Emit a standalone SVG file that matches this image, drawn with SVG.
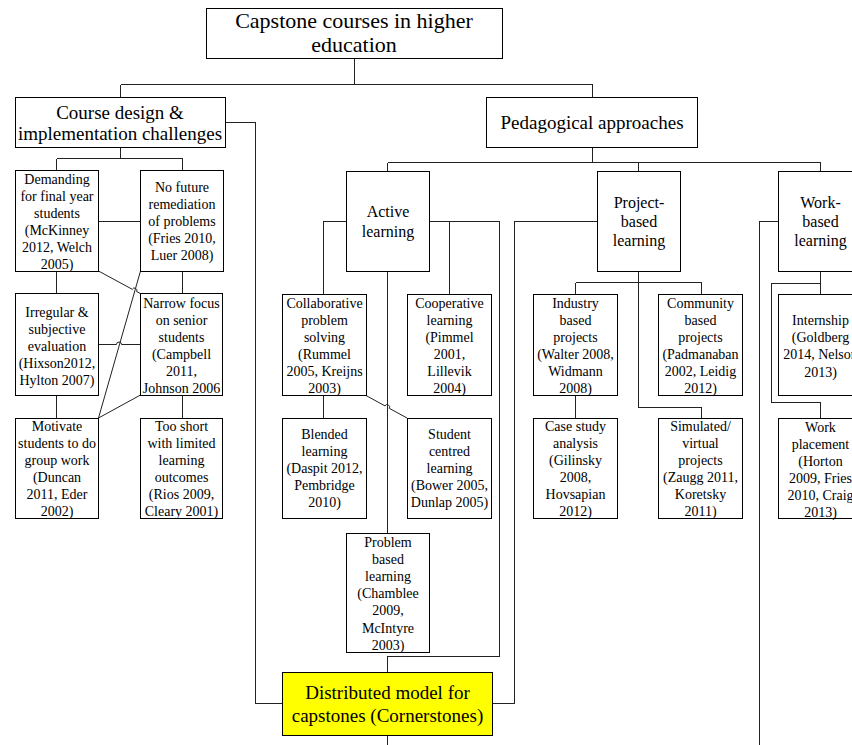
<svg xmlns="http://www.w3.org/2000/svg" width="852" height="745" viewBox="0 0 852 745" font-family="'Liberation Serif', 'Times New Roman', serif">
<style>
  .box { fill: #ffffff; stroke: #000000; stroke-width: 1; shape-rendering: crispEdges; }
  .hl { fill: #ffff00; stroke: #000000; stroke-width: 1; shape-rendering: crispEdges; }
  .c { fill: none; stroke: #222222; stroke-width: 1; }
  .o { shape-rendering: crispEdges; }
  text { font-family: 'Liberation Serif', 'Times New Roman', serif; fill: #000000; text-anchor: middle; }
  .t22 { font-size: 22px; }
  .t19 { font-size: 19px; }
  .t16 { font-size: 16px; }
  .t14 { font-size: 14px; }
</style>
<rect width="852" height="745" fill="#ffffff"/>

<g id="connectors">
  <path class="c o" d="M354.5 58 V84.5 M120.5 84.5 H592.5 M120.5 84.5 V97 M592.5 84.5 V97"/>
  <path class="c o" d="M120.5 147 V158.5 M56.5 158.5 H182.5 M56.5 158.5 V170 M182.5 158.5 V170"/>
  <path class="c o" d="M98 221.5 H140"/>
  <path class="c o" d="M56.5 271 V293 M182.5 271 V293 M56.5 395 V418 M182.5 395 V418"/>
  <path class="c" d="M98 344.5 H116.5 A2.5 2.5 0 0 1 121.5 344.5 H140"/>
  <path class="c" d="M98.5 271 L132.3 289.3 A2.4 2.4 0 0 1 136.6 291.6 L140.5 293.5"/>
  <path class="c" d="M140.5 271 L98.5 418"/>
  <path class="c" d="M140.5 395 L98.5 418"/>
  <path class="c o" d="M225 122.5 H255.5 V703.5 H282"/>

  <path class="c o" d="M592.5 147 V162.5 M387.5 162.5 H820.5 M387.5 162.5 V171 M638.5 162.5 V171 M820.5 162.5 V171"/>

  <path class="c o" d="M346 221.5 H323.5 V294"/>
  <path class="c o" d="M429 221.5 H499.5 V656.5 H387.5 V672"/>
  <path class="c o" d="M449.5 221.5 V294"/>
  <path class="c o" d="M387.5 271 V533"/>
  <path class="c o" d="M323.5 395 V418"/>
  <path class="c" d="M366 395.5 L385 405.9 A2.3 2.3 0 0 1 389.3 408.3 L407 418"/>
  <path class="c o" d="M387.5 735 V745"/>

  <path class="c o" d="M597 221.5 H514.5 V703.5 H492"/>
  <path class="c o" d="M638.5 271 V407.5 H701.5 V418"/>
  <path class="c o" d="M575.5 282.5 H701.5 M575.5 282.5 V294 M701.5 282.5 V294"/>
  <path class="c o" d="M575.5 395 V418"/>

  <path class="c o" d="M778 221.5 H759.5 V745"/>
  <path class="c o" d="M820.5 271 V283.5 H771.5 V402.5 H820.5 V418 M820.5 283.5 V294"/>
</g>

<g id="root">
  <rect class="box" x="206.5" y="8.5" width="296" height="50"/>
  <text class="t22" x="354" y="28">Capstone courses in higher</text>
  <text class="t22" x="354" y="52">education</text>
</g>

<g id="course-design">
  <rect class="box" x="15.5" y="97.5" width="210" height="50"/>
  <text class="t19" x="120" y="118.5">Course design &amp;</text>
  <text class="t19" x="120" y="139.5">implementation challenges</text>
</g>

<g id="pedagogical">
  <rect class="box" x="486.5" y="97.5" width="211" height="50"/>
  <text class="t19" x="592" y="128.5">Pedagogical approaches</text>
</g>

<g id="demanding">
  <rect class="box" x="15.5" y="170.5" width="83" height="101"/>
  <text class="t14" x="57" y="184"><tspan x="57">Demanding</tspan><tspan x="57" dy="16.9">for final year</tspan><tspan x="57" dy="16.9">students</tspan><tspan x="57" dy="16.9">(McKinney</tspan><tspan x="57" dy="16.9">2012, Welch</tspan><tspan x="57" dy="16.9">2005)</tspan></text>
</g>

<g id="no-future">
  <rect class="box" x="140.5" y="170.5" width="83" height="101"/>
  <text class="t14" x="182" y="192"><tspan x="182">No future</tspan><tspan x="182" dy="17">remediation</tspan><tspan x="182" dy="17">of problems</tspan><tspan x="182" dy="17">(Fries 2010,</tspan><tspan x="182" dy="17">Luer 2008)</tspan></text>
</g>

<g id="irregular">
  <rect class="box" x="15.5" y="293.5" width="83" height="102"/>
  <text class="t14" x="57" y="317"><tspan x="57">Irregular &amp;</tspan><tspan x="57" dy="17">subjective</tspan><tspan x="57" dy="17">evaluation</tspan><tspan x="57" dy="17">(Hixson2012,</tspan><tspan x="57" dy="17">Hylton 2007)</tspan></text>
</g>

<g id="narrow">
  <rect class="box" x="140.5" y="293.5" width="82" height="102"/>
  <text class="t14" x="181.5" y="308"><tspan x="181.5">Narrow focus</tspan><tspan x="181.5" dy="16.9">on senior</tspan><tspan x="181.5" dy="16.9">students</tspan><tspan x="181.5" dy="16.9">(Campbell</tspan><tspan x="181.5" dy="16.9">2011,</tspan><tspan x="181.5" dy="16.9">Johnson 2006</tspan></text>
</g>

<g id="motivate">
  <rect class="box" x="15.5" y="418.5" width="83" height="100"/>
  <text class="t14" x="57" y="431"><tspan x="57">Motivate</tspan><tspan x="57" dy="16.9">students to do</tspan><tspan x="57" dy="16.9">group work</tspan><tspan x="57" dy="16.9">(Duncan</tspan><tspan x="57" dy="16.9">2011, Eder</tspan><tspan x="57" dy="16.9">2002)</tspan></text>
</g>

<g id="too-short">
  <rect class="box" x="140.5" y="418.5" width="82" height="100"/>
  <text class="t14" x="181.5" y="431"><tspan x="181.5">Too short</tspan><tspan x="181.5" dy="16.9">with limited</tspan><tspan x="181.5" dy="16.9">learning</tspan><tspan x="181.5" dy="16.9">outcomes</tspan><tspan x="181.5" dy="16.9">(Rios 2009,</tspan><tspan x="181.5" dy="16.9">Cleary 2001)</tspan></text>
</g>

<g id="active">
  <rect class="box" x="346.5" y="171.5" width="83" height="100"/>
  <text class="t16" x="388" y="217"><tspan x="388">Active</tspan><tspan x="388" dy="19.5">learning</tspan></text>
</g>

<g id="collaborative">
  <rect class="box" x="282.5" y="294.5" width="84" height="101"/>
  <text class="t14" x="324.5" y="308"><tspan x="324.5">Collaborative</tspan><tspan x="324.5" dy="16.9">problem</tspan><tspan x="324.5" dy="16.9">solving</tspan><tspan x="324.5" dy="16.9">(Rummel</tspan><tspan x="324.5" dy="16.9">2005, Kreijns</tspan><tspan x="324.5" dy="16.9">2003)</tspan></text>
</g>

<g id="cooperative">
  <rect class="box" x="407.5" y="294.5" width="84" height="101"/>
  <text class="t14" x="449.5" y="308"><tspan x="449.5">Cooperative</tspan><tspan x="449.5" dy="16.9">learning</tspan><tspan x="449.5" dy="16.9">(Pimmel</tspan><tspan x="449.5" dy="16.9">2001,</tspan><tspan x="449.5" dy="16.9">Lillevik</tspan><tspan x="449.5" dy="16.9">2004)</tspan></text>
</g>

<g id="blended">
  <rect class="box" x="282.5" y="418.5" width="84" height="100"/>
  <text class="t14" x="324.5" y="439"><tspan x="324.5">Blended</tspan><tspan x="324.5" dy="17">learning</tspan><tspan x="324.5" dy="17">(Daspit 2012,</tspan><tspan x="324.5" dy="17">Pembridge</tspan><tspan x="324.5" dy="17">2010)</tspan></text>
</g>

<g id="student-centred">
  <rect class="box" x="407.5" y="418.5" width="84" height="100"/>
  <text class="t14" x="449.5" y="439"><tspan x="449.5">Student</tspan><tspan x="449.5" dy="17">centred</tspan><tspan x="449.5" dy="17">learning</tspan><tspan x="449.5" dy="17">(Bower 2005,</tspan><tspan x="449.5" dy="17">Dunlap 2005)</tspan></text>
</g>

<g id="problem-based">
  <rect class="box" x="346.5" y="533.5" width="83" height="119"/>
  <text class="t14" x="388" y="547"><tspan x="388">Problem</tspan><tspan x="388" dy="17.1">based</tspan><tspan x="388" dy="17.1">learning</tspan><tspan x="388" dy="17.1">(Chamblee</tspan><tspan x="388" dy="17.1">2009,</tspan><tspan x="388" dy="17.1">McIntyre</tspan><tspan x="388" dy="17.1">2003)</tspan></text>
</g>

<g id="distributed">
  <rect class="hl" x="282.5" y="672.5" width="210" height="63"/>
  <text class="t19" x="387.5" y="698.5">Distributed model for</text>
  <text class="t19" x="387.5" y="721.5">capstones (Cornerstones)</text>
</g>

<g id="project-based">
  <rect class="box" x="597.5" y="171.5" width="83" height="100"/>
  <text class="t16" x="639" y="207.5"><tspan x="639">Project-</tspan><tspan x="639" dy="19.3">based</tspan><tspan x="639" dy="19.3">learning</tspan></text>
</g>

<g id="industry">
  <rect class="box" x="533.5" y="294.5" width="84" height="101"/>
  <text class="t14" x="575.5" y="308"><tspan x="575.5">Industry</tspan><tspan x="575.5" dy="16.9">based</tspan><tspan x="575.5" dy="16.9">projects</tspan><tspan x="575.5" dy="16.9">(Walter 2008,</tspan><tspan x="575.5" dy="16.9">Widmann</tspan><tspan x="575.5" dy="16.9">2008)</tspan></text>
</g>

<g id="community">
  <rect class="box" x="658.5" y="294.5" width="84" height="101"/>
  <text class="t14" x="700.5" y="308"><tspan x="700.5">Community</tspan><tspan x="700.5" dy="16.9">based</tspan><tspan x="700.5" dy="16.9">projects</tspan><tspan x="700.5" dy="16.9">(Padmanaban</tspan><tspan x="700.5" dy="16.9">2002, Leidig</tspan><tspan x="700.5" dy="16.9">2012)</tspan></text>
</g>

<g id="case-study">
  <rect class="box" x="533.5" y="418.5" width="84" height="100"/>
  <text class="t14" x="575.5" y="431"><tspan x="575.5">Case study</tspan><tspan x="575.5" dy="16.9">analysis</tspan><tspan x="575.5" dy="16.9">(Gilinsky</tspan><tspan x="575.5" dy="16.9">2008,</tspan><tspan x="575.5" dy="16.9">Hovsapian</tspan><tspan x="575.5" dy="16.9">2012)</tspan></text>
</g>

<g id="simulated">
  <rect class="box" x="658.5" y="418.5" width="84" height="100"/>
  <text class="t14" x="700.5" y="431"><tspan x="700.5">Simulated/</tspan><tspan x="700.5" dy="16.9">virtual</tspan><tspan x="700.5" dy="16.9">projects</tspan><tspan x="700.5" dy="16.9">(Zaugg 2011,</tspan><tspan x="700.5" dy="16.9">Koretsky</tspan><tspan x="700.5" dy="16.9">2011)</tspan></text>
</g>

<g id="work-based">
  <rect class="box" x="778.5" y="171.5" width="84" height="100"/>
  <text class="t16" x="820.5" y="207.5"><tspan x="820.5">Work-</tspan><tspan x="820.5" dy="19.3">based</tspan><tspan x="820.5" dy="19.3">learning</tspan></text>
</g>

<g id="internship">
  <rect class="box" x="778.5" y="294.5" width="84" height="101"/>
  <text class="t14" x="820.5" y="325"><tspan x="820.5">Internship</tspan><tspan x="820.5" dy="17.2">(Goldberg</tspan><tspan x="820.5" dy="17.2">2014, Nelson</tspan><tspan x="820.5" dy="17.2">2013)</tspan></text>
</g>

<g id="work-placement">
  <rect class="box" x="778.5" y="418.5" width="84" height="100"/>
  <text class="t14" x="820.5" y="432"><tspan x="820.5">Work</tspan><tspan x="820.5" dy="16.9">placement</tspan><tspan x="820.5" dy="16.9">(Horton</tspan><tspan x="820.5" dy="16.9">2009, Fries</tspan><tspan x="820.5" dy="16.9">2010, Craig</tspan><tspan x="820.5" dy="16.9">2013)</tspan></text>
</g>
</svg>
